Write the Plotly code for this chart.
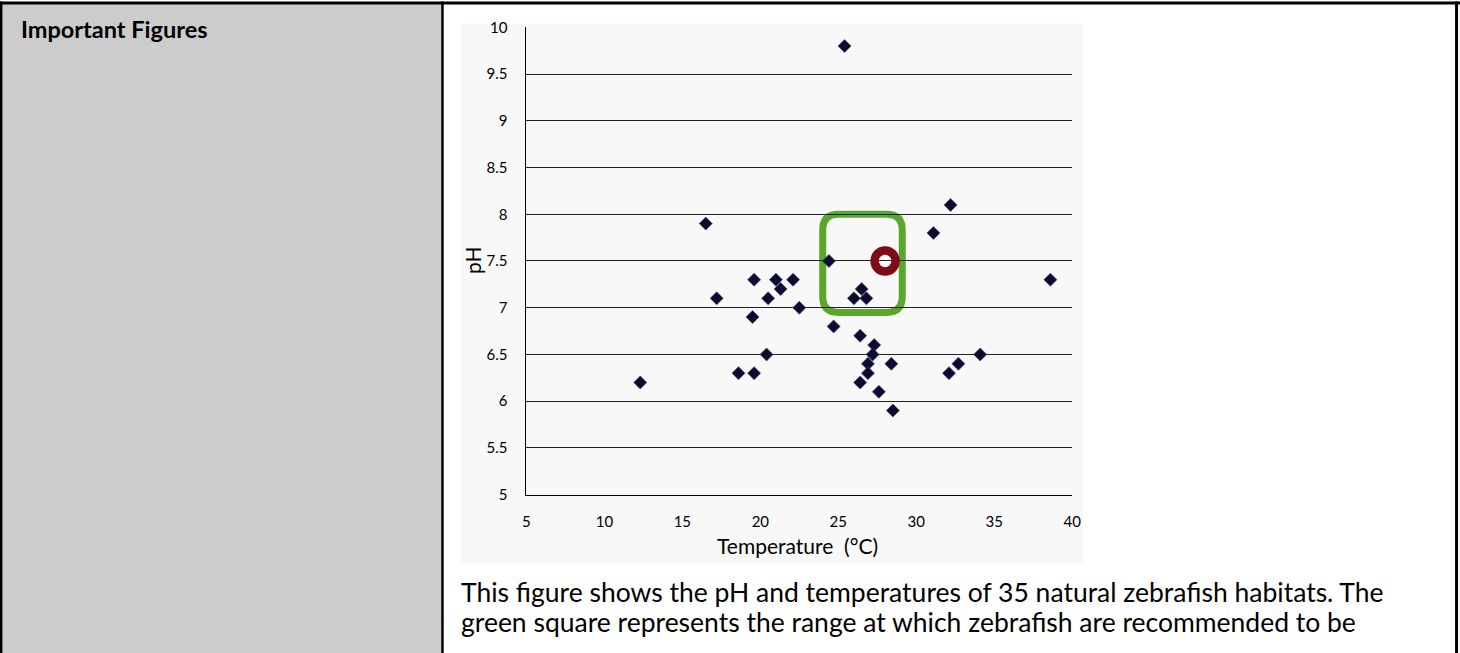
import plotly.graph_objects as go

# ---- data ----
temperature = [25.4, 16.5, 12.3, 17.2, 19.6, 19.5, 18.6, 19.6, 20.4, 20.5, 21.0, 21.3,
               22.1, 22.5, 24.4, 24.7, 32.2, 31.1, 26.0, 26.5, 26.8, 26.4, 27.3, 27.2,
               26.9, 26.9, 26.4, 27.6, 28.5, 28.4, 32.1, 32.7, 34.1, 38.6]
ph = [9.8, 7.9, 6.2, 7.1, 7.3, 6.9, 6.3, 6.3, 6.5, 7.1, 7.3, 7.2,
      7.3, 7.0, 7.5, 6.8, 8.1, 7.8, 7.1, 7.2, 7.1, 6.7, 6.6, 6.5,
      6.4, 6.3, 6.2, 6.1, 5.9, 6.4, 6.3, 6.4, 6.5, 7.3]
recommended_temp = [24.0, 29.1]
recommended_ph = [6.95, 8.0]
lab_temp = [28.0]
lab_ph = [7.5]
x_ticks = [5, 10, 15, 20, 25, 30, 35, 40]
y_ticks = [5, 5.5, 6, 6.5, 7, 7.5, 8, 8.5, 9, 9.5, 10]

heading = "Important Figures"
caption_lines = [
    "This figure shows the pH and temperatures of 35 natural zebrafish habitats. The",
    "green square represents the range at which zebrafish are recommended to be",
]
x_title = "Temperature  (°C)"
y_title = "pH"

W, H = 1460, 653
FONT = "Lato"

# placement calibration (page pixel -> photographed pixel)
AX, BX = 3.85, 0.9915
AY, BY = 8.6, 0.974


def px(x):
    return ((x - AX) / BX) / W


def py(y):
    return 1 - ((y - AY) / BY) / H


fig = go.Figure()

fig.add_trace(go.Scatter(
    x=temperature, y=ph, mode="markers",
    marker=dict(symbol="diamond", size=10, color="#0b0b33",
                line=dict(color="#3a3a55", width=0.6)),
    showlegend=False, hoverinfo="x+y"))

fig.add_trace(go.Scatter(
    x=lab_temp, y=lab_ph, mode="markers",
    marker=dict(symbol="circle-open", size=21, color="#7d0c17",
                line=dict(color="#7d0c17", width=8.5)),
    showlegend=False))

# green rounded range box built from the recommended range
x0, x1 = recommended_temp
y0, y1 = recommended_ph
rx, ry = 1.0, 0.17
path = (f"M {x0+rx},{y0} L {x1-rx},{y0} Q {x1},{y0} {x1},{y0+ry} "
        f"L {x1},{y1-ry} Q {x1},{y1} {x1-rx},{y1} L {x0+rx},{y1} "
        f"Q {x0},{y1} {x0},{y1-ry} L {x0},{y0+ry} Q {x0},{y0} {x0+rx},{y0} Z")

shapes = [
    # left grey cell
    dict(type="rect", xref="paper", yref="paper", x0=px(-6), x1=px(442), y0=py(662), y1=py(2),
         fillcolor="#cccccc", line=dict(width=0), layer="below"),
    # chart background
    dict(type="rect", xref="paper", yref="paper", x0=px(461), x1=px(1083), y0=py(563), y1=py(22),
         fillcolor="#f8f8f8", line=dict(width=0), layer="below"),
    # table borders
    dict(type="line", xref="paper", yref="paper", x0=px(-6), x1=px(1466), y0=py(1.5), y1=py(1.5),
         line=dict(color="black", width=3)),
    dict(type="line", xref="paper", yref="paper", x0=px(1), x1=px(1), y0=py(662), y1=py(0),
         line=dict(color="black", width=2.5)),
    dict(type="line", xref="paper", yref="paper", x0=px(442.5), x1=px(442.5), y0=py(662), y1=py(0),
         line=dict(color="black", width=2.5)),
    dict(type="line", xref="paper", yref="paper", x0=px(1457), x1=px(1457), y0=py(662), y1=py(0),
         line=dict(color="black", width=3)),
    dict(type="path", xref="x", yref="y", path=path,
         line=dict(color="#59a82b", width=7), fillcolor="rgba(0,0,0,0)", layer="below"),
]

annotations = [
    dict(text=f"<b>{heading}</b>", xref="paper", yref="paper", x=px(19), y=py(28),
         xanchor="left", yanchor="middle", showarrow=False,
         font=dict(family=FONT, size=23.5, color="black")),
    dict(text=caption_lines[0],
         xref="paper", yref="paper", x=px(459), y=py(592), xanchor="left", yanchor="middle",
         showarrow=False, font=dict(family=FONT, size=26.5, color="black")),
    dict(text=caption_lines[1],
         xref="paper", yref="paper", x=px(459), y=py(622), xanchor="left", yanchor="middle",
         showarrow=False, font=dict(family=FONT, size=26.5, color="black")),
    dict(text=x_title, xref="paper", yref="paper", x=px(798), y=py(545),
         xanchor="center", yanchor="middle", showarrow=False,
         font=dict(family=FONT, size=21, color="black")),
    dict(text=y_title, xref="paper", yref="paper", x=px(473), y=py(259), textangle=-90,
         xanchor="center", yanchor="middle", showarrow=False,
         font=dict(family=FONT, size=21, color="black")),
]

fig.update_layout(
    width=W, height=H, margin=dict(l=0, r=0, t=0, b=0),
    paper_bgcolor="white", plot_bgcolor="rgba(0,0,0,0)",
    shapes=shapes, annotations=annotations, showlegend=False,
    xaxis=dict(domain=[px(526.5), px(1072.5)], range=[5, 40], tickvals=x_ticks,
               ticktext=[str(v) for v in x_ticks], showgrid=False, zeroline=False,
               showline=True, linecolor="black", linewidth=1, ticks="",
               ticklabelstandoff=13, tickfont=dict(family=FONT, size=15, color="black"),
               fixedrange=True),
    yaxis=dict(domain=[py(494), py(26)], range=[5, 10], tickvals=y_ticks,
               ticktext=[f"{v:g}" for v in y_ticks], showgrid=True, gridcolor="#222222",
               gridwidth=1, zeroline=False, showline=True, linecolor="black", linewidth=1,
               ticks="", ticklabelstandoff=15,
               tickfont=dict(family=FONT, size=15, color="black"), fixedrange=True),
)

post = ("var gd=document.getElementById('{plot_id}');"
        "document.documentElement.style.margin='0';document.body.style.margin='0';"
        "document.body.style.padding='0';document.body.style.overflow='hidden';"
        "gd.style.position='absolute';gd.style.left='0px';gd.style.top='0px';")

fig.write_html("out.html", post_script=post, config={"displayModeBar": False})
